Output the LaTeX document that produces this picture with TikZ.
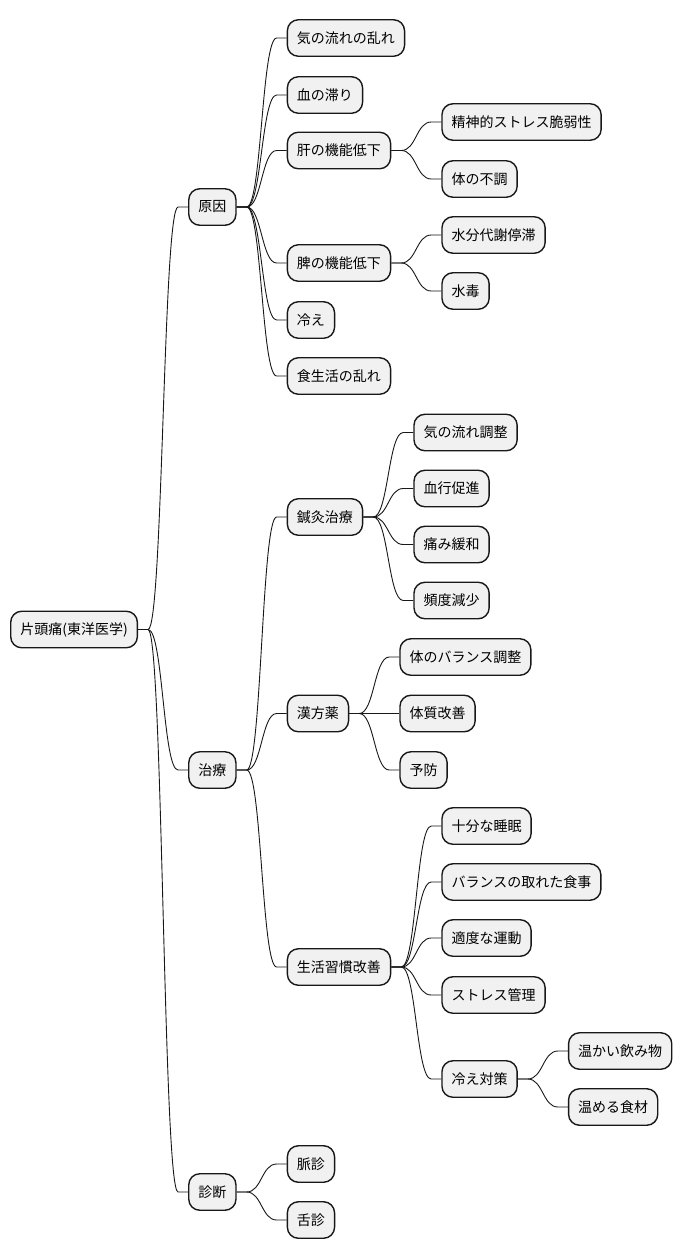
\documentclass[tikz,border=0pt]{standalone}
\usepackage{fontspec}
\setmainfont{Noto Sans CJK JP}
\usetikzlibrary{calc}
\definecolor{boxfill}{HTML}{F1F1F1}
\definecolor{boxline}{HTML}{181818}
\tikzset{
  box/.style={draw=boxline, fill=boxfill, line width=1.4pt, rounded corners=11pt,
    minimum height=36.5pt, inner xsep=9.6pt, inner ysep=0pt, anchor=west,
    font=\fontsize{14pt}{16pt}\selectfont, text=black},
  conn/.style={draw=boxline, line width=0.9pt}
}
% \kid{name}{parent}{parent y}{child y}{text}
\newcommand\kid[5]{\node[box] (#1) at ($(#2.east)+(50,#4-#3)$) {#5};}
\newcommand\conn[2]{\draw[conn] (#1.east) -- ($(#1.east)+(10,0)$) .. controls ($(#1.east)+(25,0)$) and ($(#2.west)+(-25,0)$) .. ($(#2.west)+(-10,0)$) -- (#2.west);}
\begin{document}
\begin{tikzpicture}[x=1pt,y=-1pt]
\useasboundingbox[fill=white] (0,0) rectangle (681,1259);
\node[box] (root) at (10,629.5) {片頭痛(東洋医学)};
% level 1
\kid{yuan}{root}{629.5}{207}{原因}
\kid{chi}{root}{629.5}{770}{治療}
\kid{shin}{root}{629.5}{1192}{診断}
% causes
\kid{c1}{yuan}{207}{38}{気の流れの乱れ}
\kid{c2}{yuan}{207}{95}{血の滞り}
\kid{kan}{yuan}{207}{150.5}{肝の機能低下}
\kid{hi}{yuan}{207}{263}{脾の機能低下}
\kid{c5}{yuan}{207}{320}{冷え}
\kid{c6}{yuan}{207}{376}{食生活の乱れ}
\kid{k1}{kan}{150.5}{122}{精神的ストレス脆弱性}
\kid{k2}{kan}{150.5}{179}{体の不調}
\kid{h1}{hi}{263}{235}{水分代謝停滞}
\kid{h2}{hi}{263}{291}{水毒}
% treatment
\kid{sk}{chi}{770}{517}{鍼灸治療}
\kid{kp}{chi}{770}{713.5}{漢方薬}
\kid{sl}{chi}{770}{967}{生活習慣改善}
\kid{sk1}{sk}{517}{432.5}{気の流れ調整}
\kid{sk2}{sk}{517}{488.5}{血行促進}
\kid{sk3}{sk}{517}{544.5}{痛み緩和}
\kid{sk4}{sk}{517}{600.5}{頻度減少}
\kid{kp1}{kp}{713.5}{657}{体のバランス調整}
\kid{kp2}{kp}{713.5}{713.5}{体質改善}
\kid{kp3}{kp}{713.5}{770}{予防}
\kid{sl1}{sl}{967}{826}{十分な睡眠}
\kid{sl2}{sl}{967}{882}{バランスの取れた食事}
\kid{sl3}{sl}{967}{938}{適度な運動}
\kid{sl4}{sl}{967}{995}{ストレス管理}
\kid{hie}{sl}{967}{1079}{冷え対策}
\kid{hie1}{hie}{1079}{1051}{温かい飲み物}
\kid{hie2}{hie}{1079}{1107}{温める食材}
% diagnosis
\kid{d1}{shin}{1192}{1164}{脈診}
\kid{d2}{shin}{1192}{1220}{舌診}
% connectors
\conn{root}{yuan}\conn{root}{chi}\conn{root}{shin}
\conn{yuan}{c1}\conn{yuan}{c2}\conn{yuan}{kan}\conn{yuan}{hi}\conn{yuan}{c5}\conn{yuan}{c6}
\conn{kan}{k1}\conn{kan}{k2}\conn{hi}{h1}\conn{hi}{h2}
\conn{chi}{sk}\conn{chi}{kp}\conn{chi}{sl}
\conn{sk}{sk1}\conn{sk}{sk2}\conn{sk}{sk3}\conn{sk}{sk4}
\conn{kp}{kp1}\conn{kp}{kp2}\conn{kp}{kp3}
\conn{sl}{sl1}\conn{sl}{sl2}\conn{sl}{sl3}\conn{sl}{sl4}\conn{sl}{hie}
\conn{hie}{hie1}\conn{hie}{hie2}
\conn{shin}{d1}\conn{shin}{d2}
\end{tikzpicture}
\end{document}
